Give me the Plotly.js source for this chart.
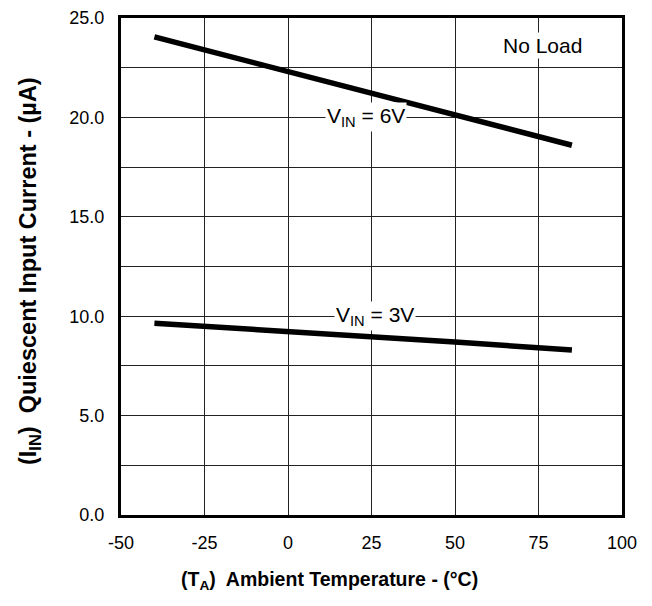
<!DOCTYPE html>
<html><head><meta charset="utf-8">
<script src="https://cdn.plot.ly/plotly-3.0.1.min.js"></script>
<style>html,body{margin:0;padding:0;background:#fff;}#chart{width:652px;height:606px;}</style>
</head><body><div id="chart"></div>
<script>
const temps6 = [-40, 0, 25, 50, 85];
const iq6 = [24.05, 22.3, 21.2, 20.1, 18.6];
const temps3 = [-40, 0, 25, 50, 85];
const iq3 = [9.65, 9.25, 8.97, 8.7, 8.3];
const yTickVals = [0, 5, 10, 15, 20, 25];
const yTickText = ['0.0', '5.0', '10.0', '15.0', '20.0', '25.0'];
const xTickVals = [-50, -25, 0, 25, 50, 75, 100];
const xTickText = ['-50', '-25', '0', '25', '50', '75', '100'];
const xTitle = '(T<sub>A</sub>)  Ambient Temperature - (°C)';
const yTitle = '(I<sub>IN</sub>)  Quiescent Input Current - (µA)';
const labels = [
  {x: 23.3, y: 20.0, text: 'V<sub>IN</sub> = 6V'},
  {x: 26.0, y: 10.0, text: 'V<sub>IN</sub> = 3V'},
  {x: 76.3, y: 23.6, text: 'No Load'}
];
const lineStyle = {color: '#000', width: 5.5};
const traces = [
  {x: temps6, y: iq6, mode: 'lines', line: lineStyle, hoverinfo: 'skip'},
  {x: temps3, y: iq3, mode: 'lines', line: lineStyle, hoverinfo: 'skip'}
];
const tickFont = {family: 'Liberation Sans, Arial, sans-serif', size: 18, color: '#000'};
const titleFont = {family: 'Liberation Sans, Arial, sans-serif', color: '#000', weight: 'bold'};
const annotations = labels.map(l => ({
  x: l.x, y: l.y, xref: 'x', yref: 'y', text: l.text, showarrow: false,
  bgcolor: '#fff', borderpad: 1,
  font: {family: 'Liberation Sans, Arial, sans-serif', size: 21, color: '#000'}
}));
annotations.push({
  x: 0.417, y: -0.1308, xref: 'paper', yref: 'paper', xanchor: 'center', yanchor: 'middle',
  text: xTitle, showarrow: false, font: Object.assign({size: 19.5}, titleFont)
});
annotations.push({
  x: -0.1816, y: 0.491, xref: 'paper', yref: 'paper', xanchor: 'center', yanchor: 'middle',
  textangle: -90, text: yTitle, showarrow: false, font: Object.assign({size: 23.5}, titleFont)
});
const layout = {
  width: 652, height: 606,
  margin: {l: 121, r: 30, t: 18, b: 91},
  paper_bgcolor: '#fff', plot_bgcolor: '#fff',
  showlegend: false,
  font: tickFont,
  xaxis: {
    range: [-50, 100], tickvals: xTickVals, ticktext: xTickText, ticks: '', showgrid: true,
    gridcolor: '#222', gridwidth: 1, zeroline: false,
    showline: true, linecolor: '#000', linewidth: 3, mirror: true,
    tickfont: tickFont, ticklabelstandoff: 9
  },
  yaxis: {
    range: [0, 25], tickvals: yTickVals, ticktext: yTickText, ticks: '', showgrid: true,
    gridcolor: '#222', gridwidth: 1, zeroline: false,
    minor: {dtick: 2.5, showgrid: true, gridcolor: '#222', gridwidth: 1},
    showline: true, linecolor: '#000', linewidth: 3, mirror: true,
    tickfont: tickFont, ticklabelstandoff: 10
  },
  annotations: annotations
};
Plotly.newPlot('chart', traces, layout, {displayModeBar: false, staticPlot: true});
</script>
</body></html>
